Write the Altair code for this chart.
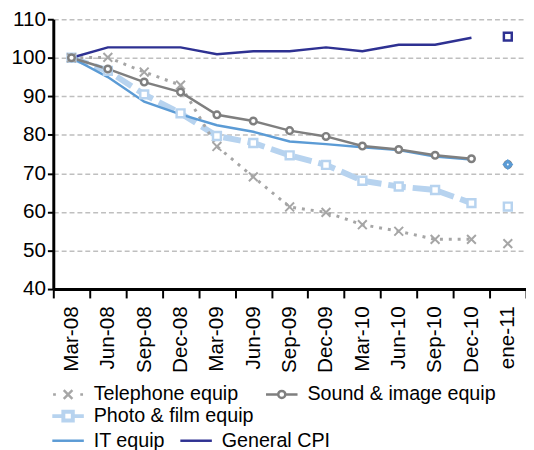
import altair as alt
import pandas as pd

periods = ["Mar-08", "Jun-08", "Sep-08", "Dec-08", "Mar-09", "Jun-09", "Sep-09",
           "Dec-09", "Mar-10", "Jun-10", "Sep-10", "Dec-10", "ene-11"]
series_names = ["Telephone equip", "Sound & image equip", "Photo & film equip",
                "IT equip", "General CPI"]

telephone = [100, 100.1, 96.3, 92.9, 77.0, 69.1, 61.3, 59.9, 56.7, 55.0, 52.9, 52.9, 51.8]
sound = [100, 97.1, 93.7, 91.1, 85.2, 83.6, 81.1, 79.6, 77.1, 76.2, 74.7, 73.8, 72.3]
photo = [100, 96.6, 90.5, 85.6, 79.7, 77.9, 74.7, 72.2, 68.1, 66.6, 65.7, 62.3, 61.4]
it_equip = [100, 95.0, 88.6, 85.3, 82.5, 80.8, 78.3, 77.6, 76.8, 76.1, 74.4, 73.6, 72.3]
cpi = [100, 102.7, 102.7, 102.7, 100.9, 101.7, 101.7, 102.7, 101.7, 103.4, 103.4, 105.2, 105.5]

rows = []
for name, vals in zip(series_names, [telephone, sound, photo, it_equip, cpi]):
    for p, v in zip(periods, vals):
        rows.append({"period": p, "series": name, "value": v})
df = pd.DataFrame(rows)

FONT = "Liberation Sans"
C_TEL = "#A6A6A6"
C_SND = "#7F7F7F"
C_PHO = "#B7D3EF"
C_IT = "#5B9BD5"
C_CPI = "#2E3192"

x_enc = alt.X(
    "period:N", sort=periods,
    scale=alt.Scale(type="band", paddingInner=0, paddingOuter=0),
    axis=alt.Axis(title=None, labelAngle=-90, labelFontSize=21, labelFont=FONT,
                  labelColor="black", tickBand="extent", tickSize=9, tickWidth=2,
                  tickColor="black", domainColor="black", domainWidth=3,
                  labelPadding=8, grid=False),
)
y_enc = alt.Y(
    "value:Q",
    scale=alt.Scale(domain=[40, 110], nice=False, zero=False),
    axis=alt.Axis(title=None, values=list(range(40, 111, 10)), labelFontSize=21,
                  labelFont=FONT, labelColor="black", grid=True, gridColor="#BFBFBF",
                  gridDash=[5, 3], gridWidth=1.5, tickSize=6, tickWidth=2,
                  tickColor="black", domainColor="black", domainWidth=3, labelPadding=2),
)

base = alt.Chart(df)


def only(name, with_last):
    expr = f'datum.series == "{name}"'
    if not with_last:
        expr += ' && datum.period != "ene-11"'
    return base.transform_filter(expr)


def last_only(name):
    return base.transform_filter(f'datum.series == "{name}" && datum.period == "ene-11"')


X_PATH = "M-1,-1L1,1M-1,1L1,-1"

photo_line = only("Photo & film equip", False).mark_line(
    color=C_PHO, strokeWidth=6, strokeDash=[18, 7]).encode(x=x_enc, y=y_enc)
tel_line = only("Telephone equip", False).mark_line(
    color=C_TEL, strokeWidth=3, strokeDash=[3, 6]).encode(x=x_enc, y=y_enc)
it_line = only("IT equip", False).mark_line(
    color=C_IT, strokeWidth=2.5).encode(x=x_enc, y=y_enc)
snd_line = only("Sound & image equip", False).mark_line(
    color=C_SND, strokeWidth=2.5).encode(x=x_enc, y=y_enc)
cpi_line = only("General CPI", False).mark_line(
    color=C_CPI, strokeWidth=2.5).encode(x=x_enc, y=y_enc)

photo_pts = only("Photo & film equip", True).mark_point(
    shape="square", size=64, filled=True, fill="white", stroke=C_PHO,
    strokeWidth=2.5, opacity=1).encode(x=x_enc, y=y_enc)
tel_pts = only("Telephone equip", True).mark_point(
    shape=X_PATH, size=80, stroke=C_TEL, strokeWidth=2, opacity=1).encode(x=x_enc, y=y_enc)
snd_pts = only("Sound & image equip", True).mark_point(
    shape="circle", size=45, filled=True, fill="white", stroke=C_SND,
    strokeWidth=2.5, opacity=1).encode(x=x_enc, y=y_enc)
it_pt = last_only("IT equip").mark_point(
    shape="diamond", size=70, filled=True, fill=C_IT, stroke=C_IT, opacity=1).encode(x=x_enc, y=y_enc)
it_dot = last_only("IT equip").mark_point(
    shape="circle", size=4, filled=True, fill="white", opacity=1).encode(x=x_enc, y=y_enc)
cpi_pt = last_only("General CPI").mark_point(
    shape="square", size=64, filled=True, fill="white", stroke=C_CPI,
    strokeWidth=2.5, opacity=1).encode(x=x_enc, y=y_enc)

# legend symbol paths (unit = 8px at symbolSize 256)
P_TEL = "M-0.9,0H-0.55M0.45,-0.55L1.55,0.55M0.45,0.55L1.55,-0.55M2.55,0H2.9"
P_SND = "M-1,0H0.55M1.45,0H3M1.45,0A0.45,0.45,0,1,1,0.55,0A0.45,0.45,0,1,1,1.45,0Z"
P_PHO = "M-1,0H0.35M1.65,0H3M0.4,-0.55H1.6V0.55H0.4Z"
P_LINE = "M-1,0H3"


def legend_layer(names, colors, paths, lx, ly, sw, colpad):
    leg = alt.Legend(title=None, orient="none", legendX=lx, legendY=ly,
                     direction="horizontal", labelFontSize=20, labelFont=FONT,
                     labelColor="black", symbolSize=256, symbolStrokeWidth=sw,
                     labelOffset=24, columnPadding=colpad, padding=0, labelLimit=400)
    return base.transform_filter("false").mark_point(
        filled=True, fill="white", opacity=1).encode(
        stroke=alt.Stroke("series:N", scale=alt.Scale(domain=names, range=colors), legend=leg),
        shape=alt.Shape("series:N", scale=alt.Scale(domain=names, range=paths), legend=leg),
    )


leg1 = legend_layer(["Telephone equip", "Sound & image equip"], [C_TEL, C_SND],
                    [P_TEL, P_SND], -3, 371, 2.5, 23)
leg2 = legend_layer(["Photo & film equip"], [C_PHO], [P_PHO], -3, 393, 4, 12)
leg3 = legend_layer(["IT equip", "General CPI"], [C_IT, C_CPI], [P_LINE, P_LINE],
                    -3, 418, 2.5, 10)

chart = alt.layer(
    photo_line, tel_line, it_line, snd_line, cpi_line,
    photo_pts, tel_pts, snd_pts, it_pt, it_dot, cpi_pt,
    leg1, leg2, leg3,
).resolve_scale(stroke="independent", shape="independent").properties(
    width=480, height=274,
    autosize=alt.AutoSizeParams(type="none"),
    padding={"left": 46, "top": 8, "right": 0, "bottom": 160},
    background="white",
).configure_view(stroke=None)

chart.save("out.html", embed_options={"renderer": "svg", "actions": False})
